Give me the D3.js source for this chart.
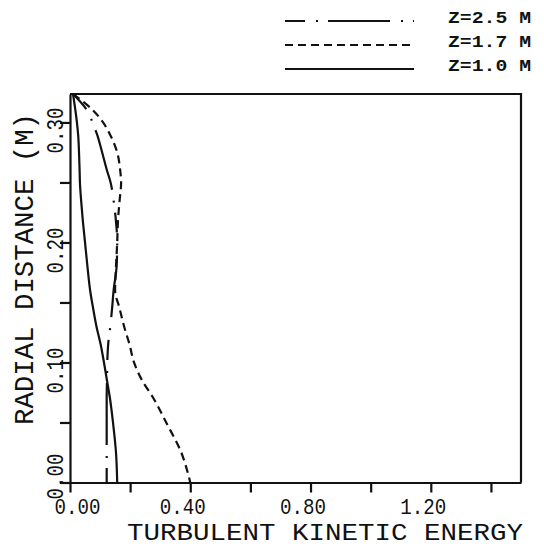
<!DOCTYPE html>
<html>
<head>
<meta charset="utf-8">
<script src="https://cdn.jsdelivr.net/npm/d3@7"></script>
<style>
  body { margin: 0; background: #fff; }
  svg { display: block; }
  text { font-family: "Liberation Mono", "DejaVu Sans Mono", monospace; fill: #111; }
</style>
</head>
<body>
<svg id="chart" width="544" height="547"></svg>
<script>
// radial position (M) shared by the three profiles
const radius = [0.3237, 0.31, 0.30, 0.29, 0.275, 0.26, 0.25, 0.235, 0.22, 0.20, 0.18,
  0.16, 0.145, 0.13, 0.115, 0.10, 0.085, 0.07, 0.05, 0.025, 0.0];

// turbulent kinetic energy at each radius
const tkeZ25 = [0.010, 0.057, 0.075, 0.090, 0.107, 0.123, 0.135, 0.145, 0.152, 0.157, 0.155,
  0.145, 0.140, 0.134, 0.127, 0.124, 0.123, 0.122, 0.122, 0.122, 0.122];
const tkeZ17 = [0.010, 0.077, 0.110, 0.133, 0.157, 0.167, 0.170, 0.165, 0.160, 0.157, 0.153,
  0.150, 0.165, 0.180, 0.198, 0.213, 0.240, 0.278, 0.320, 0.370, 0.400];
const tkeZ10 = [0.010, 0.018, 0.023, 0.027, 0.030, 0.032, 0.033, 0.037, 0.042, 0.050, 0.058,
  0.067, 0.077, 0.088, 0.102, 0.113, 0.123, 0.133, 0.143, 0.153, 0.157];

const seriesNames = ["Z=2.5 M", "Z=1.7 M", "Z=1.0 M"];
const xTicks = [0, 0.2, 0.4, 0.6, 0.8, 1.0, 1.2, 1.4];
const yTicks = [0, 0.05, 0.10, 0.15, 0.20, 0.25, 0.30];

const series = [
  { name: seriesNames[0], values: tkeZ25, dash: "20,11,2,10,62,11,2,10" },
  { name: seriesNames[1], values: tkeZ17, dash: "8,5" },
  { name: seriesNames[2], values: tkeZ10, dash: null }
];

const svg = d3.select("#chart");

const x = d3.scaleLinear().domain([0, 1.5]).range([70, 521]);
const y = d3.scaleLinear().domain([0, 0.3237]).range([482.5, 94]);

// frame: top and right sides
svg.append("path")
  .attr("d", `M${x(0)},${y(0.3237)}H${x(1.5)}V${y(0)}`)
  .attr("fill", "none")
  .attr("stroke", "#111")
  .attr("stroke-width", 2.2);

const xAxis = svg.append("g")
  .attr("transform", `translate(0,${y(0)})`)
  .call(d3.axisBottom(x)
    .tickValues(xTicks)
    .tickSize(10)
    .tickSizeOuter(0)
    .tickFormat((d, i) => i % 2 === 0 ? d.toFixed(2) : ""));

const yAxis = svg.append("g")
  .attr("transform", `translate(${x(0)},0)`)
  .call(d3.axisLeft(y)
    .tickValues(yTicks)
    .tickSize(10)
    .tickSizeOuter(0)
    .tickFormat((d, i) => i % 2 === 0 ? d.toFixed(2) : ""));

[xAxis, yAxis].forEach(g => {
  g.attr("font-family", null).attr("font-size", null);
  g.select(".domain").attr("stroke", "#111").attr("stroke-width", 2.2);
  g.selectAll(".tick line").attr("stroke", "#111").attr("stroke-width", 2.2);
});

xAxis.selectAll(".tick text")
  .filter(function () { return this.textContent !== ""; })
  .attr("y", 31)
  .attr("dy", 0)
  .attr("dx", (d) => d === 0 ? 7 : -8)
  .attr("font-size", 22)
  .attr("textLength", 46)
  .attr("lengthAdjust", "spacingAndGlyphs");

yAxis.selectAll(".tick text")
  .filter(function () { return this.textContent !== ""; })
  .attr("x", 0)
  .attr("dy", 0)
  .attr("text-anchor", "middle")
  .attr("transform", d => `translate(-7,${d === 0 ? -6.5 : 7.5}) rotate(-90)`)
  .attr("font-size", 24)
  .attr("textLength", 46)
  .attr("lengthAdjust", "spacingAndGlyphs");

// axis titles
svg.append("text")
  .attr("x", 325)
  .attr("y", 539.5)
  .attr("text-anchor", "middle")
  .attr("font-size", 24)
  .attr("textLength", 396)
  .attr("lengthAdjust", "spacingAndGlyphs")
  .text("TURBULENT KINETIC ENERGY");

svg.append("text")
  .attr("transform", "translate(33,269) rotate(-90)")
  .attr("text-anchor", "middle")
  .attr("font-size", 27)
  .attr("textLength", 312)
  .attr("lengthAdjust", "spacingAndGlyphs")
  .text("RADIAL DISTANCE (M)");

// profiles
const line = d3.line()
  .x(d => x(d[1]))
  .y(d => y(d[0]))
  .curve(d3.curveMonotoneY);

svg.append("g")
  .selectAll("path")
  .data(series)
  .join("path")
  .attr("d", s => line(radius.map((r, i) => [r, s.values[i]])))
  .attr("fill", "none")
  .attr("stroke", "#111")
  .attr("stroke-width", 2.2)
  .attr("stroke-dasharray", s => s.dash);

// legend
const legend = svg.append("g")
  .selectAll("g")
  .data(series)
  .join("g")
  .attr("transform", (s, i) => `translate(0,${21 + i * 24})`);

legend.append("line")
  .attr("x1", 285)
  .attr("x2", 414)
  .attr("stroke", "#111")
  .attr("stroke-width", 2.2)
  .attr("stroke-dasharray", s => s.dash);

legend.append("text")
  .attr("x", 448)
  .attr("y", 1.5)
  .attr("font-size", 16)
  .attr("font-weight", "bold")
  .attr("textLength", 83)
  .attr("lengthAdjust", "spacingAndGlyphs")
  .text(s => s.name);
</script>
</body>
</html>
